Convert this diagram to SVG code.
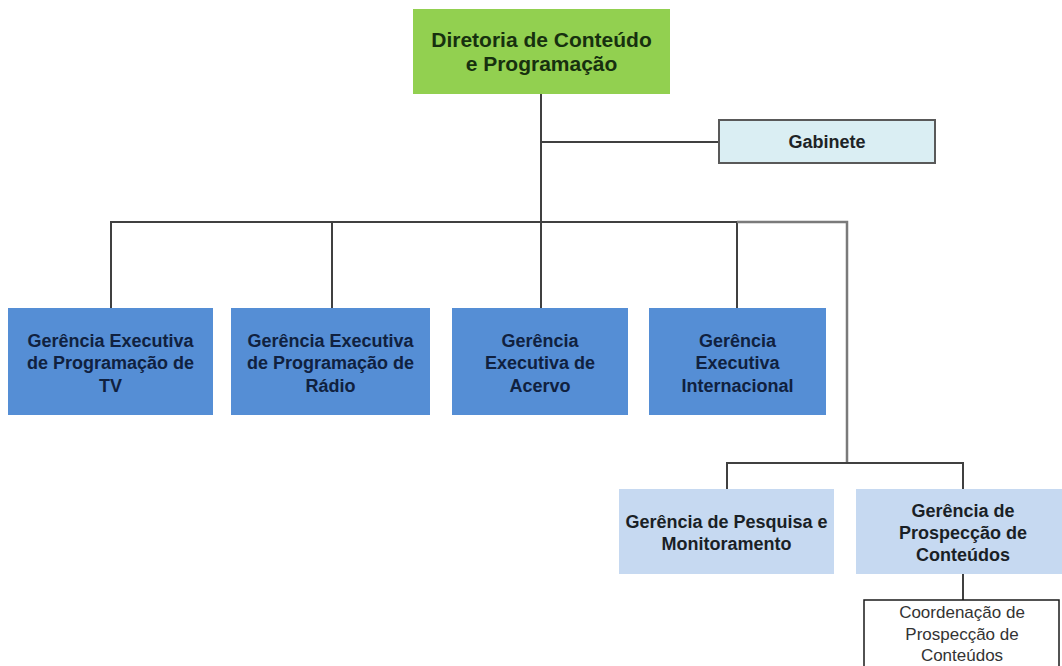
<svg xmlns="http://www.w3.org/2000/svg" width="1062" height="666" viewBox="0 0 1062 666">
<style>
text{font-family:"Liberation Sans",Arial,sans-serif;text-anchor:middle}
.b{font-weight:bold;font-size:18px}
.top{font-weight:bold;font-size:21px;fill:#17300f}
.exe{fill:#558ed5}
.exet{fill:#10213f}
.sub{fill:#c6d9f1}
.subt{fill:#1a1f26}
.ln{stroke:#404040;stroke-width:2;fill:none}
.lg{stroke:#7a7a7a;stroke-width:2.5;fill:none}
</style>
<rect width="1062" height="666" fill="#ffffff"/>
<g id="connectors">
<path class="ln" d="M541,94 V222"/>
<path class="ln" d="M541,142 H719"/>
<path class="ln" d="M111,308 V222 H737 V308"/>
<path class="ln" d="M332,222 V308"/>
<path class="ln" d="M541,222 V308"/>
<path class="lg" d="M737,222 H847 V463"/>
<path class="ln" d="M727,489 V463 H963 V489"/>
<path class="ln" d="M963,574 V600"/>
</g>
<g id="diretoria">
<rect x="413" y="9" width="257" height="85" fill="#92d050"/>
<text class="top" x="541.5" y="47">Diretoria de Conteúdo</text>
<text class="top" x="541.5" y="71">e Programação</text>
</g>
<g id="gabinete">
<rect x="719" y="120" width="216" height="43" fill="#daeef3" stroke="#595959" stroke-width="2"/>
<text class="b" x="827" y="148" fill="#1d2326">Gabinete</text>
</g>
<g id="ge-tv">
<rect class="exe" x="8" y="308" width="205" height="107"/>
<text class="b exet" x="110.5" y="347">Gerência Executiva</text>
<text class="b exet" x="110.5" y="369">de Programação de</text>
<text class="b exet" x="110.5" y="392">TV</text>
</g>
<g id="ge-radio">
<rect class="exe" x="231" y="308" width="199" height="107"/>
<text class="b exet" x="330.5" y="347">Gerência Executiva</text>
<text class="b exet" x="330.5" y="369">de Programação de</text>
<text class="b exet" x="330.5" y="392">Rádio</text>
</g>
<g id="ge-acervo">
<rect class="exe" x="452" y="308" width="176" height="107"/>
<text class="b exet" x="540" y="347">Gerência</text>
<text class="b exet" x="540" y="369">Executiva de</text>
<text class="b exet" x="540" y="392">Acervo</text>
</g>
<g id="ge-internacional">
<rect class="exe" x="649" y="308" width="177" height="107"/>
<text class="b exet" x="737.5" y="347">Gerência</text>
<text class="b exet" x="737.5" y="369">Executiva</text>
<text class="b exet" x="737.5" y="392">Internacional</text>
</g>
<g id="g-pesquisa">
<rect class="sub" x="619" y="489" width="215" height="85"/>
<text class="b subt" x="726.5" y="528">Gerência de Pesquisa e</text>
<text class="b subt" x="726.5" y="550">Monitoramento</text>
</g>
<g id="g-prospeccao">
<rect class="sub" x="856" y="489" width="214" height="85"/>
<text class="b subt" x="963" y="517">Gerência de</text>
<text class="b subt" x="963" y="539">Prospecção de</text>
<text class="b subt" x="963" y="561">Conteúdos</text>
</g>
<g id="c-prospeccao">
<rect x="864" y="600" width="195" height="90" fill="#ffffff" stroke="#1a1a1a" stroke-width="1.5"/>
<text x="962" y="618" font-size="17" fill="#333333">Coordenação de</text>
<text x="962" y="640" font-size="17" fill="#333333">Prospecção de</text>
<text x="962" y="661" font-size="17" fill="#333333">Conteúdos</text>
</g>
</svg>
